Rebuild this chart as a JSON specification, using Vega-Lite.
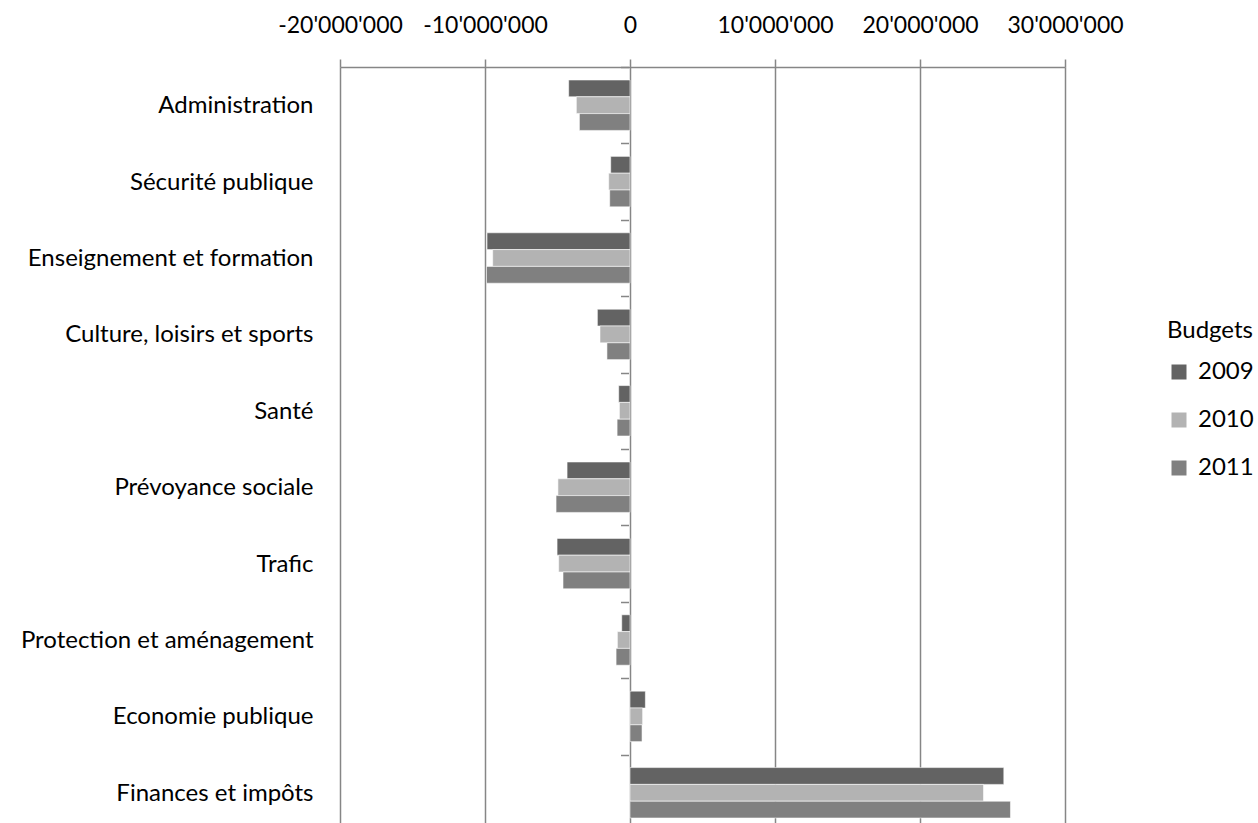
{
 "$schema": "https://vega.github.io/schema/vega-lite/v6.json",
 "width": 725,
 "height": 764,
 "autosize": "none",
 "padding": {"left": 340, "top": 67, "right": 193, "bottom": 0},
 "config": {
  "locale": {"number": {"decimal": ".", "thousands": "'", "grouping": [3], "currency": ["", ""], "minus": "-"}},
  "view": {"stroke": null},
  "font": "Lato"
 },
 "data": {"values": [
  {"category": "Administration", "year": "2009", "value": -4230000},
  {"category": "Administration", "year": "2010", "value": -3700000},
  {"category": "Administration", "year": "2011", "value": -3490000},
  {"category": "Sécurité publique", "year": "2009", "value": -1330000},
  {"category": "Sécurité publique", "year": "2010", "value": -1470000},
  {"category": "Sécurité publique", "year": "2011", "value": -1400000},
  {"category": "Enseignement et formation", "year": "2009", "value": -9860000},
  {"category": "Enseignement et formation", "year": "2010", "value": -9470000},
  {"category": "Enseignement et formation", "year": "2011", "value": -9900000},
  {"category": "Culture, loisirs et sports", "year": "2009", "value": -2250000},
  {"category": "Culture, loisirs et sports", "year": "2010", "value": -2070000},
  {"category": "Culture, loisirs et sports", "year": "2011", "value": -1590000},
  {"category": "Santé", "year": "2009", "value": -780000},
  {"category": "Santé", "year": "2010", "value": -730000},
  {"category": "Santé", "year": "2011", "value": -890000},
  {"category": "Prévoyance sociale", "year": "2009", "value": -4340000},
  {"category": "Prévoyance sociale", "year": "2010", "value": -4970000},
  {"category": "Prévoyance sociale", "year": "2011", "value": -5100000},
  {"category": "Trafic", "year": "2009", "value": -5030000},
  {"category": "Trafic", "year": "2010", "value": -4920000},
  {"category": "Trafic", "year": "2011", "value": -4620000},
  {"category": "Protection et aménagement", "year": "2009", "value": -570000},
  {"category": "Protection et aménagement", "year": "2010", "value": -870000},
  {"category": "Protection et aménagement", "year": "2011", "value": -960000},
  {"category": "Economie publique", "year": "2009", "value": 1060000},
  {"category": "Economie publique", "year": "2010", "value": 870000},
  {"category": "Economie publique", "year": "2011", "value": 830000},
  {"category": "Finances et impôts", "year": "2009", "value": 25780000},
  {"category": "Finances et impôts", "year": "2010", "value": 24380000},
  {"category": "Finances et impôts", "year": "2011", "value": 26240000}
 ]},
 "layer": [
  {
   "mark": {"type": "bar", "stroke": "#ffffff", "strokeWidth": 0.8, "strokeOpacity": 0.7},
   "encoding": {
    "y": {"field": "category", "type": "nominal", "sort": null,
      "scale": {"paddingInner": 0.34, "paddingOuter": 0.17},
      "axis": {"title": null, "ticks": false, "domain": false, "labelPadding": 27, "labelFontSize": 24, "labelColor": "#000000", "labelFont": "Lato", "labelLimit": 400, "labelOffset": 1}},
    "yOffset": {"field": "year", "type": "nominal", "sort": ["2009", "2010", "2011"]},
    "x": {"field": "value", "type": "quantitative",
      "scale": {"domain": [-20000000, 30000000], "nice": false},
      "axis": {"orient": "top", "values": [-20000000, -10000000, 0, 10000000, 20000000, 30000000], "format": ",d", "title": null,
        "grid": true, "gridColor": "#868686", "gridWidth": 1.5,
        "domainColor": "#868686", "domainWidth": 1.5,
        "tickColor": "#868686", "tickSize": 8, "tickWidth": 1.5,
        "labelOverlap": false, "labelBound": false, "labelFlush": false,
        "labelPadding": 22, "labelFontSize": 23, "labelColor": "#000000", "labelFont": "Lato"}},
    "color": {"field": "year", "type": "nominal",
      "scale": {"domain": ["2009", "2010", "2011"], "range": ["#636363", "#b3b3b3", "#808080"]},
      "legend": {"title": "Budgets", "orient": "none", "legendX": 827, "legendY": 252,
        "symbolType": "square", "symbolSize": 225, "symbolStrokeWidth": 0,
        "titleFontSize": 24, "titleFontWeight": "normal", "titleColor": "#000000", "titleFont": "Lato", "titlePadding": 17,
        "labelFontSize": 24, "labelColor": "#000000", "labelFont": "Lato", "labelOffset": 7, "rowPadding": 24}}
   }
  },
  {
   "mark": {"type": "bar", "opacity": 0},
   "encoding": {
    "y": {"field": "category", "type": "nominal", "sort": null,
      "scale": {"paddingInner": 0, "paddingOuter": 0},
      "axis": {"orient": "left", "offset": -288.5, "labels": false, "ticks": true, "tickBand": "extent", "tickSize": 8, "tickColor": "#868686", "tickWidth": 1.5, "domain": false, "grid": false, "title": null}},
    "x": {"field": "value", "type": "quantitative"}
   }
  }
 ],
 "resolve": {"scale": {"y": "independent"}, "axis": {"y": "independent"}}
}
